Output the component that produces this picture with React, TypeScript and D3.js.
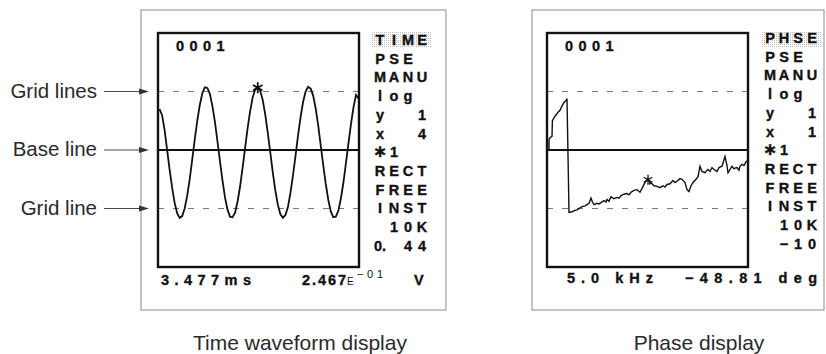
import React from "react";
import * as d3 from "d3";

// ---------- data ----------
const waveSamples = [
  0.70, 0.60, 0.35, 0.01, -0.33, -0.64, -0.90, -1.08, -1.16, -1.13,
  -1.00, -0.78, -0.50, -0.16, 0.18, 0.50, 0.77, 0.97, 1.07, 1.06,
  0.96, 0.75, 0.48, 0.15, -0.19, -0.52, -0.81, -1.02, -1.14, -1.15,
  -1.07, -0.88, -0.62, -0.30, 0.04, 0.38, 0.67, 0.90, 1.04, 1.08,
  1.01, 0.85, 0.60, 0.29, -0.05, -0.39, -0.70, -0.94, -1.10, -1.16,
  -1.11, -0.97, -0.73, -0.43, -0.10, 0.25, 0.56, 0.82, 1.00, 1.08,
  1.05, 0.93, 0.71, 0.42, 0.08, -0.26, -0.58, -0.85, -1.05, -1.15,
  -1.14, -1.04, -0.83, -0.56, -0.23, 0.11, 0.44, 0.73, 0.94, 0.88,
];
const waveMarkerIndex = 39;

const phaseFreqKHz = [
  0.05, 0.05, 0.10, 0.20, 0.22, 0.35, 0.50, 0.60, 0.70, 0.80, 0.90, 0.95,
  1.05, 1.20, 1.35, 1.45, 1.60, 1.70, 1.85, 1.95, 2.05, 2.15, 2.22, 2.30,
  2.45, 2.55, 2.65, 2.80, 2.90, 2.95, 3.05, 3.15, 3.30, 3.45, 3.55, 3.65,
  3.80, 3.95, 4.05, 4.15, 4.30, 4.45, 4.60, 4.75, 4.85, 5.00, 5.10, 5.15,
  5.30, 5.45, 5.60, 5.75, 5.85, 5.95, 6.10, 6.25, 6.35, 6.45, 6.60, 6.70,
  6.85, 6.95, 7.05, 7.15, 7.25, 7.40, 7.50, 7.60, 7.70, 7.85, 7.95, 8.00,
  8.10, 8.20, 8.30, 8.45, 8.55, 8.70, 8.80, 8.85, 8.95, 9.00, 9.10, 9.20,
  9.30, 9.35, 9.45, 9.55, 9.60, 9.70, 9.80, 9.90, 10.0,
];
const phaseDeg = [
  1, 16, 19, 21, 45, 52, 58, 61, 68, 73, 76, 79,
  -96, -95, -93, -92, -89, -87, -86, -84, -82, -74, -80, -84,
  -82, -83, -81, -78, -80, -76, -79, -72, -75, -73, -74, -70,
  -68, -67, -69, -65, -62, -61, -65, -56, -50, -44, -52, -50,
  -55, -56, -58, -55, -57, -53, -52, -47, -50, -48, -44, -45,
  -50, -61, -64, -55, -50, -45, -41, -25, -33, -35, -31, -30,
  -33, -27, -30, -33, -27, -25, -15, -10, -24, -35, -30, -25,
  -29, -28, -27, -31, -25, -22, -24, -18, -16,
];
const phaseMarker = [5.0, -48.81];

const timeStatus = ["TIME", "PSE", "MANU", "log", "y  1", "x  4", "\u22171", "RECT", "FREE", "INST", " 10K", "0. 44"];
const phaseStatus = ["PHSE", "PSE", "MANU", "log", "y  1", "x  1", "\u22171", "RECT", "FREE", "INST", " 10K", " \u221210"];
const frameCounter = "0001";
const timeReadout = ["3.477ms", "2.467", "E", "\u221201", "V"];
const phaseReadout = ["5.0 kHz", "\u221248.81 deg"];
const annotationLabels = ["Grid lines", "Base line", "Grid line"];
const annotationValues = [1, 0, -1];
const captions = ["Time waveform display", "Phase display"];

// ---------- helpers ----------
function splitCells(s: string): string[] {
  const out: string[] = [];
  for (const ch of s) {
    if (ch === "." && out.length) out[out.length - 1] += ch;
    else out.push(ch);
  }
  return out;
}

function asteriskPath(cx: number, cy: number, r: number) {
  const p = d3.path();
  for (let k = 0; k < 3; k++) {
    const a = Math.PI / 2 + (k * Math.PI) / 3;
    p.moveTo(cx + r * Math.cos(a), cy - r * Math.sin(a));
    p.lineTo(cx - r * Math.cos(a), cy + r * Math.sin(a));
  }
  return p.toString();
}

const SCREEN_FONT = "'Liberation Sans', Arial, sans-serif";
const LABEL_FONT = "'Liberation Sans', Arial, Helvetica, sans-serif";

function StatusColumn({ rows, x0, y0 }: { rows: string[]; x0: number; y0: number }) {
  const pitch = 14;
  const rowH = 18.7;
  return (
    <g fontFamily={SCREEN_FONT} fontWeight={700} fontSize={14.5} fill="#111" stroke="#111" strokeWidth={0.35}>
      {rows.map((r, ri) =>
        splitCells(r).map((c, ci) =>
          c.trim() === "" ? null : (
            <text
              key={ri + "-" + ci}
              x={x0 + ci * pitch}
              y={y0 + ri * rowH}
              textAnchor="middle"
              fontFamily={c === "\u2217" ? "'DejaVu Sans', sans-serif" : undefined}
              fontSize={c === "\u2217" ? 17 : undefined}
            >
              {c}
            </text>
          )
        )
      )}
    </g>
  );
}

function Counter({ x0, y }: { x0: number; y: number }) {
  return (
    <g fontFamily={SCREEN_FONT} fontWeight={700} fontSize={14.5} fill="#111" stroke="#111" strokeWidth={0.35}>
      {frameCounter.split("").map((c, i) => (
        <text key={i} x={x0 + i * 13.5} y={y} textAnchor="middle">
          {c}
        </text>
      ))}
    </g>
  );
}

export default function App() {
  const W = 826;
  const H = 354;

  // time panel
  const tFrame = { x0: 158, x1: 359, y0: 33, y1: 267 };
  const xT = d3.scaleLinear().domain([0, waveSamples.length - 1]).range([159.5, 358.5]);
  const yT = d3.scaleLinear().domain([-2, 2]).range([tFrame.y1, tFrame.y0]);
  const waveLine = d3
    .line<number>()
    .x((_, i) => xT(i))
    .y((d) => yT(d))
    .curve(d3.curveLinear);

  // phase panel
  const pFrame = { x0: 547, x1: 748, y0: 33, y1: 267 };
  const xP = d3.scaleLinear().domain([0, 10]).range([548, 748]);
  const yP = d3.scaleLinear().domain([-180, 180]).range([pFrame.y1, pFrame.y0]);
  const phaseLine = d3
    .line<number>()
    .x((_, i) => xP(phaseFreqKHz[i]))
    .y((d) => yP(d))
    .curve(d3.curveLinear);

  const gridVals = [-1, 1];

  return (
    <svg
      width={W}
      height={H}
      viewBox={`0 0 ${W} ${H}`}
      style={{ position: "absolute", left: 0, top: 0, background: "#fff" }}
    >
      <defs>
        <pattern id="dots" width="2" height="2" patternUnits="userSpaceOnUse">
          <rect width="1" height="1" fill="#bdbdbd" />
        </pattern>
        <clipPath id="clipT">
          <rect x={tFrame.x0} y={tFrame.y0} width={tFrame.x1 - tFrame.x0} height={tFrame.y1 - tFrame.y0} />
        </clipPath>
        <clipPath id="clipP">
          <rect x={pFrame.x0} y={pFrame.y0} width={pFrame.x1 - pFrame.x0} height={pFrame.y1 - pFrame.y0} />
        </clipPath>
      </defs>

      {/* outer panel boxes */}
      <rect x={141} y={10} width={305} height={300} fill="none" stroke="#8a8a8a" strokeWidth={1} />
      <rect x={532} y={10} width={292} height={300} fill="none" stroke="#8a8a8a" strokeWidth={1} />

      {/* ===== time panel ===== */}
      {gridVals.map((g) => (
        <line
          key={"tg" + g}
          x1={tFrame.x0}
          x2={tFrame.x1}
          y1={yT(g)}
          y2={yT(g)}
          stroke="#7a7a7a"
          strokeWidth={1}
          strokeDasharray="6,9"
        />
      ))}
      <line x1={tFrame.x0} x2={tFrame.x1} y1={yT(0)} y2={yT(0)} stroke="#111" strokeWidth={2} />
      <path d={waveLine(waveSamples) || ""} fill="none" stroke="#111" strokeWidth={1.8} clipPath="url(#clipT)" />
      <path
        d={asteriskPath(xT(waveMarkerIndex), yT(waveSamples[waveMarkerIndex]) + 1, 5.5)}
        stroke="#111"
        strokeWidth={1.8}
        fill="none"
      />
      <rect
        x={tFrame.x0}
        y={tFrame.y0}
        width={tFrame.x1 - tFrame.x0}
        height={tFrame.y1 - tFrame.y0}
        fill="none"
        stroke="#111"
        strokeWidth={2.4}
      />
      <Counter x0={180} y={51} />
      <rect x={372} y={32} width={60} height={16} fill="url(#dots)" />
      <StatusColumn rows={timeStatus} x0={380} y0={45} />
      <g fontFamily={SCREEN_FONT} fontWeight={700} fill="#111" stroke="#111" strokeWidth={0.35}>
        <text x={161} y={285} fontSize={14.5} textLength={90} lengthAdjust="spacing">
          {timeReadout[0]}
        </text>
        <text x={302} y={285} fontSize={14.5} textLength={44} lengthAdjust="spacing">
          {timeReadout[1]}
        </text>
        <text x={347} y={285} fontSize={10} fontWeight={400} strokeWidth={0}>
          {timeReadout[2]}
        </text>
        <text x={357} y={278} fontSize={11} fontWeight={400} strokeWidth={0} textLength={26} lengthAdjust="spacing">
          {timeReadout[3]}
        </text>
        <text x={414} y={285} fontSize={14.5}>
          {timeReadout[4]}
        </text>
      </g>

      {/* ===== phase panel ===== */}
      {gridVals.map((g) => (
        <line
          key={"pg" + g}
          x1={pFrame.x0}
          x2={pFrame.x1}
          y1={yP(g * 90)}
          y2={yP(g * 90)}
          stroke="#7a7a7a"
          strokeWidth={1}
          strokeDasharray="6,9"
        />
      ))}
      <line x1={pFrame.x0} x2={pFrame.x1} y1={yP(0)} y2={yP(0)} stroke="#111" strokeWidth={2} />
      <path d={phaseLine(phaseDeg) || ""} fill="none" stroke="#111" strokeWidth={1.4} clipPath="url(#clipP)" />
      <path d={asteriskPath(xP(phaseMarker[0]), yP(phaseMarker[1]) - 2, 5)} stroke="#111" strokeWidth={1.3} fill="none" />
      <rect
        x={pFrame.x0}
        y={pFrame.y0}
        width={pFrame.x1 - pFrame.x0}
        height={pFrame.y1 - pFrame.y0}
        fill="none"
        stroke="#111"
        strokeWidth={2.4}
      />
      <Counter x0={569} y={51} />
      <rect x={762} y={31} width={60} height={16} fill="url(#dots)" />
      <StatusColumn rows={phaseStatus} x0={770} y0={43} />
      <g fontFamily={SCREEN_FONT} fontWeight={700} fill="#111" stroke="#111" strokeWidth={0.35} fontSize={14.5}>
        <text x={567} y={283} textLength={86} lengthAdjust="spacing">
          {phaseReadout[0]}
        </text>
        <text x={685} y={283} textLength={132} lengthAdjust="spacing">
          {phaseReadout[1]}
        </text>
      </g>

      {/* ===== annotations ===== */}
      {annotationLabels.map((lab, i) => {
        const y = yT(annotationValues[i]);
        return (
          <g key={lab}>
            <text
              x={97}
              y={y + 6}
              textAnchor="end"
              fontFamily={LABEL_FONT}
              fontSize={20.5}
              fill="#2a2a2a"
            >
              {lab}
            </text>
            <line x1={104} x2={141} y1={y} y2={y} stroke="#333" strokeWidth={0.9} />
            <path d={`M139,${y - 3} L149,${y} L139,${y + 3} Z`} fill="#333" />
          </g>
        );
      })}

      {/* captions */}
      <text x={300} y={350} textAnchor="middle" fontFamily={LABEL_FONT} fontSize={21} fill="#2a2a2a">
        {captions[0]}
      </text>
      <text x={699} y={350} textAnchor="middle" fontFamily={LABEL_FONT} fontSize={21} fill="#2a2a2a">
        {captions[1]}
      </text>
    </svg>
  );
}
